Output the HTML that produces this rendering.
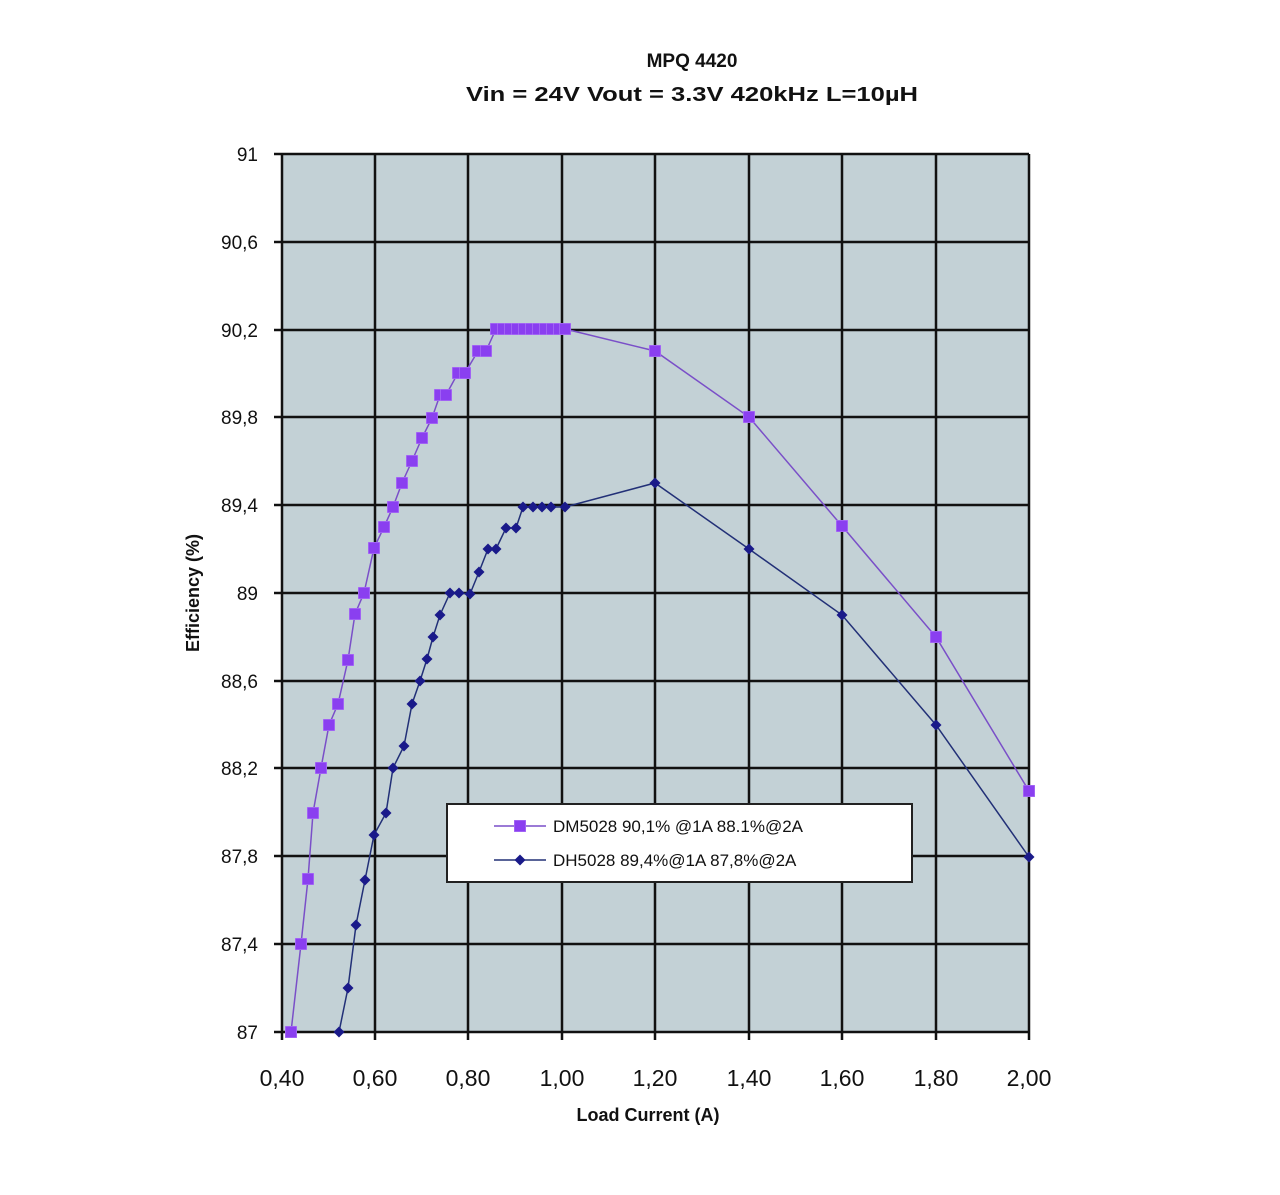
<!DOCTYPE html>
<html><head><meta charset="utf-8"><style>html,body{margin:0;padding:0;background:#fff}</style></head>
<body>
<svg width="1280" height="1190" viewBox="0 0 1280 1190" xmlns="http://www.w3.org/2000/svg" font-family="Liberation Sans, sans-serif">
<defs>
<marker id="sq" viewBox="0 0 10 10" refX="5" refY="5" markerWidth="12" markerHeight="12" markerUnits="userSpaceOnUse"><rect x="0" y="0" width="10" height="10" fill="#8a3ff0" stroke="#b07af7" stroke-width="1"/></marker>
<marker id="dm" viewBox="0 0 10 10" refX="5" refY="5" markerWidth="11" markerHeight="11" markerUnits="userSpaceOnUse"><path d="M5 0L10 5L5 10L0 5Z" fill="#1a1a8a"/></marker>
</defs>
<rect x="282" y="154" width="747" height="878" fill="#c3d1d6"/>
<g stroke="#111" stroke-width="2.5">
<line x1="282" y1="154" x2="1029" y2="154"/><line x1="282" y1="242" x2="1029" y2="242"/><line x1="282" y1="330" x2="1029" y2="330"/><line x1="282" y1="417" x2="1029" y2="417"/><line x1="282" y1="505" x2="1029" y2="505"/><line x1="282" y1="593" x2="1029" y2="593"/><line x1="282" y1="681" x2="1029" y2="681"/><line x1="282" y1="768" x2="1029" y2="768"/><line x1="282" y1="856" x2="1029" y2="856"/><line x1="282" y1="944" x2="1029" y2="944"/><line x1="274" y1="1032" x2="1029" y2="1032"/>
<line x1="282" y1="154" x2="282" y2="1040"/><line x1="375" y1="154" x2="375" y2="1040"/><line x1="468" y1="154" x2="468" y2="1040"/><line x1="562" y1="154" x2="562" y2="1040"/><line x1="655" y1="154" x2="655" y2="1040"/><line x1="749" y1="154" x2="749" y2="1040"/><line x1="842" y1="154" x2="842" y2="1040"/><line x1="936" y1="154" x2="936" y2="1040"/><line x1="1029" y1="154" x2="1029" y2="1040"/>
<line x1="274" y1="154" x2="282" y2="154"/><line x1="274" y1="242" x2="282" y2="242"/><line x1="274" y1="330" x2="282" y2="330"/><line x1="274" y1="417" x2="282" y2="417"/><line x1="274" y1="505" x2="282" y2="505"/><line x1="274" y1="593" x2="282" y2="593"/><line x1="274" y1="681" x2="282" y2="681"/><line x1="274" y1="768" x2="282" y2="768"/><line x1="274" y1="856" x2="282" y2="856"/><line x1="274" y1="944" x2="282" y2="944"/>
</g>
<polyline fill="none" stroke="#7a4fc8" stroke-width="1.5" marker-start="url(#sq)" marker-mid="url(#sq)" marker-end="url(#sq)" points="291,1032 301,944 308,879 313,813 321,768 329,725 338,704 348,660 355,614 364,593 374,548 384,527 393,507 402,483 412,461 422,438 432,418 440,395 446,395 458,373 465,373 478,351 486,351 496,329 503,329 510,329 517,329 524,329 531,329 538,329 545,329 552,329 559,329 565,329 655,351 749,417 842,526 936,637 1029,791"/>
<polyline fill="none" stroke="#223077" stroke-width="1.5" marker-start="url(#dm)" marker-mid="url(#dm)" marker-end="url(#dm)" points="339,1032 348,988 356,925 365,880 374,835 386,813 393,768 404,746 412,704 420,681 427,659 433,637 440,615 450,593 459,593 470,594 479,572 488,549 496,549 506,528 516,528 523,507 533,507 542,507 551,507 565,507 655,483 749,549 842,615 936,725 1029,857"/>
<rect x="447" y="804" width="465" height="78" fill="#fff" stroke="#222" stroke-width="2"/>
<polyline fill="none" stroke="#7a4fc8" stroke-width="1.5" points="494,826 520,826 546,826" marker-mid="url(#sq)"/>
<polyline fill="none" stroke="#223077" stroke-width="1.5" points="494,860 520,860 546,860" marker-mid="url(#dm)"/>
<g font-size="17" fill="#111">
<text x="553" y="832">DM5028 90,1% @1A 88.1%@2A</text>
<text x="553" y="866">DH5028 89,4%@1A 87,8%@2A</text>
</g>
<g font-weight="bold" fill="#111" text-anchor="middle">
<text x="692" y="67" font-size="19">MPQ 4420</text>
<text x="692" y="101" font-size="20" textLength="452" lengthAdjust="spacingAndGlyphs">Vin = 24V Vout = 3.3V 420kHz L=10µH</text>
<text x="648" y="1121" font-size="18">Load Current (A)</text>
<text transform="translate(199,593) rotate(-90)" font-size="18">Efficiency (%)</text>
</g>
<g font-size="19" fill="#111" text-anchor="end">
<text x="258" y="161">91</text><text x="258" y="249">90,6</text><text x="258" y="337">90,2</text><text x="258" y="424">89,8</text><text x="258" y="512">89,4</text><text x="258" y="600">89</text><text x="258" y="688">88,6</text><text x="258" y="775">88,2</text><text x="258" y="863">87,8</text><text x="258" y="951">87,4</text><text x="258" y="1039">87</text>
</g>
<g font-size="23" fill="#111" text-anchor="middle">
<text x="282" y="1086">0,40</text><text x="375" y="1086">0,60</text><text x="468" y="1086">0,80</text><text x="562" y="1086">1,00</text><text x="655" y="1086">1,20</text><text x="749" y="1086">1,40</text><text x="842" y="1086">1,60</text><text x="936" y="1086">1,80</text><text x="1029" y="1086">2,00</text>
</g>
</svg>
</body></html>
